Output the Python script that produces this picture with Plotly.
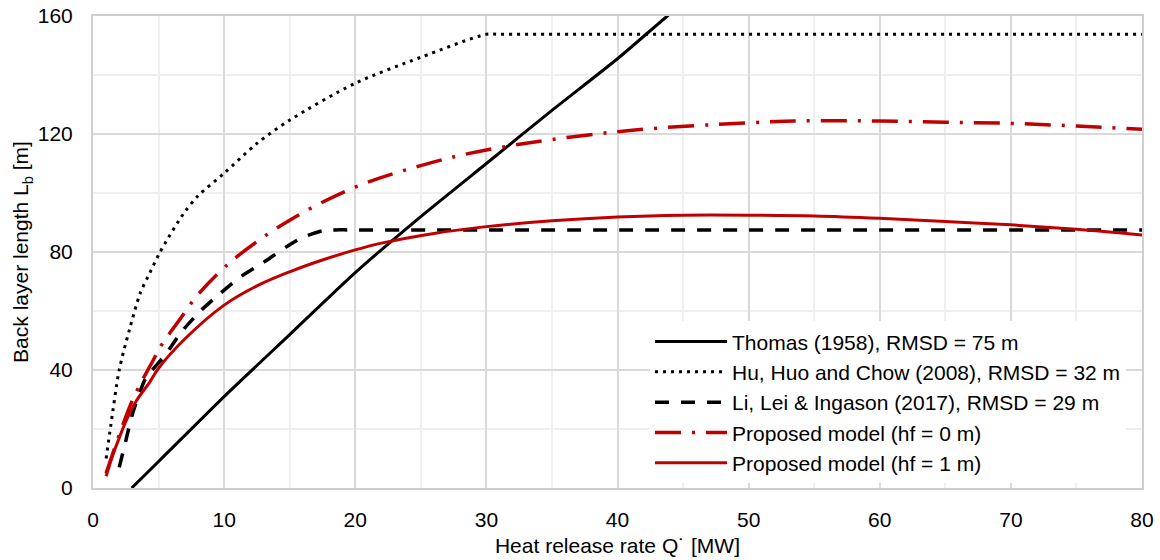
import plotly.graph_objects as go

# ---- data ----
thomas_q = [2.95, 5, 10, 15, 20, 25, 30, 35, 40, 43.8, 46]
thomas_l = [0, 9, 31, 52, 73, 92, 110, 128, 145.5, 160, 168]

hu_q = [1, 1.35, 2, 2.8, 3.6, 4.34, 5, 5.5, 6.9, 8, 10, 12.5, 15, 20, 25, 30, 31, 80]
hu_l = [10, 21, 40, 54, 66, 73, 79, 83, 93, 99, 106.7, 116.8, 124.7, 137.2, 146, 153.8, 153.8, 153.8]

li_q = [2, 2.5, 3, 4, 5.49, 6.76, 8.15, 9.55, 11.2, 12.98, 14.76, 16, 17.5, 18.5, 19.5, 80]
li_l = [7, 16, 25, 37, 45, 53, 59.8, 65.4, 71.4, 76.4, 81.8, 85, 87.2, 87.5, 87.5, 87.5]

p0_q = [1, 2, 3.07, 4.6, 5.23, 6.5, 7.9, 9.55, 11.2, 15, 20, 25, 30, 40, 50, 55, 60, 65, 70, 75, 80]
p0_l = [5, 18, 30.4, 43.4, 48.5, 56.4, 65, 72.8, 79.2, 90.8, 102, 109.3, 114.6, 120.8, 123.8, 124.5, 124.4, 124, 123.6, 122.7, 121.6]

p1_q = [1, 1.5, 2, 2.6, 3.3, 4.34, 5, 7, 10, 12.5, 15, 17.5, 20, 22, 26, 30, 35, 40, 45, 50, 55, 60, 65, 70, 75, 80]
p1_l = [4, 11, 17, 23.5, 29.5, 36, 40.6, 50.5, 62, 68.5, 73.3, 77.3, 80.7, 83, 86.3, 88.6, 90.6, 91.9, 92.5, 92.5, 92.2, 91.4, 90.3, 89.2, 87.7, 85.8]

names = [
    "Thomas (1958), RMSD = 75 m",
    "Hu, Huo and Chow (2008), RMSD = 32 m",
    "Li, Lei & Ingason (2017), RMSD = 29 m",
    "Proposed model (hf = 0 m)",
    "Proposed model (hf = 1 m)",
]

x_ticks = [0, 10, 20, 30, 40, 50, 60, 70, 80]
y_ticks = [0, 40, 80, 120, 160]

BLACK = "#000000"
RED = "#c00000"
FONT = "Liberation Sans, Arial, sans-serif"
FS = 21

fig = go.Figure()
fig.add_trace(go.Scatter(x=thomas_q, y=thomas_l, mode="lines", name=names[0],
                         line=dict(color=BLACK, width=3, shape="spline", smoothing=0.6)))
fig.add_trace(go.Scatter(x=hu_q, y=hu_l, mode="lines", name=names[1],
                         line=dict(color=BLACK, width=3, dash="3px,5px", shape="spline", smoothing=0.8)))
fig.add_trace(go.Scatter(x=li_q, y=li_l, mode="lines", name=names[2],
                         line=dict(color=BLACK, width=3.5, dash="14px,12px", shape="spline", smoothing=0.6)))
fig.add_trace(go.Scatter(x=p0_q, y=p0_l, mode="lines", name=names[3],
                         line=dict(color=RED, width=3.5, dash="26px,11px,3px,11px", shape="spline", smoothing=1.0)))
fig.add_trace(go.Scatter(x=p1_q, y=p1_l, mode="lines", name=names[4],
                         line=dict(color=RED, width=3, shape="spline", smoothing=1.0)))

fig.update_layout(
    width=1160, height=560,
    margin=dict(l=93, r=18, t=16, b=72, autoexpand=False),
    paper_bgcolor="white", plot_bgcolor="white",
    font=dict(family=FONT, size=FS, color="#000000"),
    showlegend=True,
    legend=dict(x=0.531, y=0.353, xanchor="left", yanchor="top",
                bgcolor="white", borderwidth=0, itemwidth=72,
                font=dict(family=FONT, size=FS), tracegroupgap=0),
    xaxis=dict(range=[0, 80], tickvals=x_ticks, ticktext=[str(v) for v in x_ticks],
               showgrid=True, gridcolor="#d9d9d9", gridwidth=2,
               minor=dict(dtick=5, showgrid=True, gridcolor="#efefef", gridwidth=2),
               showline=True, linecolor="#cfcfcf", linewidth=2, mirror=True,
               zeroline=False, ticks="", ticklabelstandoff=12, automargin=False,
               title=dict(text="Heat release rate Q˙ [MW]", font=dict(size=FS), standoff=8)),
    yaxis=dict(range=[0, 160], tickvals=y_ticks, ticktext=[str(v) for v in y_ticks],
               showgrid=True, gridcolor="#d9d9d9", gridwidth=2,
               minor=dict(dtick=20, showgrid=True, gridcolor="#efefef", gridwidth=2),
               showline=True, linecolor="#cfcfcf", linewidth=2, mirror=True,
               zeroline=False, ticks="", ticklabelstandoff=14, automargin=False,
               title=dict(text="Back layer length L<sub>b</sub> [m]", font=dict(size=FS), standoff=3)),
)

fig.write_html("out.html")
